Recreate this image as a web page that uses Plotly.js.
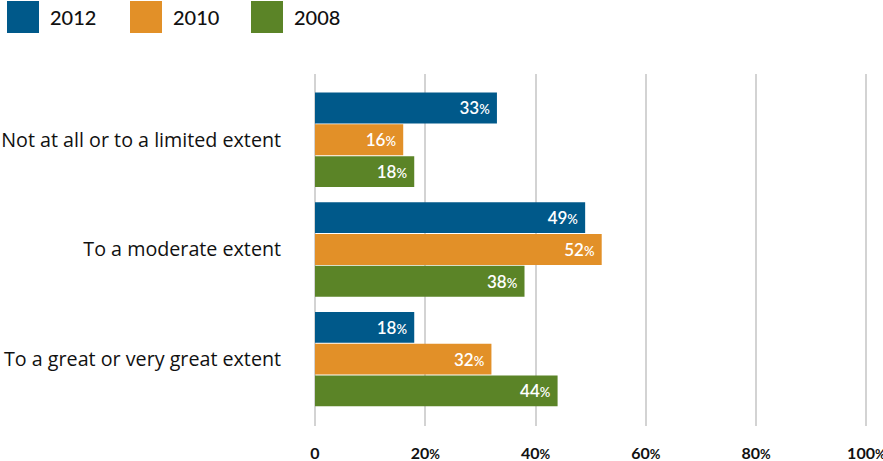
<!DOCTYPE html>
<html>
<head>
<meta charset="utf-8">
<script src="https://cdn.plot.ly/plotly-3.0.1.min.js"></script>
<style>html,body{margin:0;padding:0;background:#fff;}#chart{width:883px;height:461px;}</style>
</head>
<body>
<div id="chart"></div>
<script>
const categories = ["Not at all or to a limited extent", "To a moderate extent", "To a great or very great extent"];
const seriesNames = ["2012", "2010", "2008"];
const values2012 = [33, 49, 18];
const values2010 = [16, 52, 32];
const values2008 = [18, 38, 44];
const seriesColors = ["#00598a", "#e29028", "#5b8427"];
const tickVals = [0, 20, 40, 60, 80, 100];
const tickLabels = ["0", "20%", "40%", "60%", "80%", "100%"];

const pct = (s, sz) => s.replace('%', '<span style="font-size:' + sz + 'px">%</span>');
const allValues = [values2012, values2010, values2008];
const fontFam = 'Lato, "Open Sans", sans-serif';

const traces = allValues.map((vals, i) => ({
  type: 'bar',
  orientation: 'h',
  name: seriesNames[i],
  y: categories,
  x: vals,
  marker: {color: seriesColors[i]},
  text: vals.map(v => pct(v + '%', 13) + '\u00a0'),
  textposition: 'inside',
  insidetextanchor: 'end',
  textangle: 0,
  textfont: {color: '#ffffff', size: 17, family: fontFam, weight: 600},
  cliponaxis: false,
  hoverinfo: 'x+name'
}));

const L = 315, PW = 553, T = 74, PH = 352;
const shapes = [];
const annotations = [];
const legendX = [7, 130, 251];
seriesNames.forEach((n, i) => {
  shapes.push({type: 'rect', xref: 'paper', yref: 'paper',
    x0: (legendX[i] - L) / PW, x1: (legendX[i] + 32 - L) / PW,
    y0: 1 + (T - 33) / PH, y1: 1 + (T - 1) / PH, fillcolor: seriesColors[i], line: {width: 0}});
  annotations.push({xref: 'paper', yref: 'paper', x: (legendX[i] + 41 - L) / PW, y: 1 + (T - 17) / PH,
    xanchor: 'left', yanchor: 'middle', text: n, showarrow: false,
    font: {family: fontFam, size: 20, color: '#111', weight: 500}});
});

const layout = {
  width: 883, height: 461,
  margin: {l: L, r: 883 - L - PW, t: T, b: 461 - T - PH, pad: 0},
  paper_bgcolor: '#fff', plot_bgcolor: '#fff',
  barmode: 'group', bargap: 0.13, bargroupgap: 0.03,
  showlegend: false,
  font: {family: fontFam, color: '#111'},
  xaxis: {
    range: [0, 100.3], tickvals: tickVals, ticktext: tickLabels.map(t => pct(t, 13)),
    showgrid: true, gridcolor: '#d3d3d3', gridwidth: 2,
    zeroline: true, zerolinecolor: '#d3d3d3', zerolinewidth: 2,
    showline: false, ticks: 'outside', ticklen: 13, tickcolor: 'rgba(0,0,0,0)',
    ticklabeloverflow: 'allow',
    tickfont: {size: 16, family: fontFam, color: '#111', weight: 'bold'},
    fixedrange: true
  },
  yaxis: {
    range: [2.61, -0.6], type: 'category',
    showgrid: false, zeroline: false, showline: false,
    ticks: 'outside', ticklen: 29, tickcolor: 'rgba(0,0,0,0)',
    tickfont: {size: 19.7, family: '"Open Sans", Lato, sans-serif', color: '#111'},
    fixedrange: true
  },
  shapes: shapes,
  annotations: annotations
};

Plotly.newPlot('chart', traces, layout, {displayModeBar: false, staticPlot: true});
</script>
</body>
</html>
